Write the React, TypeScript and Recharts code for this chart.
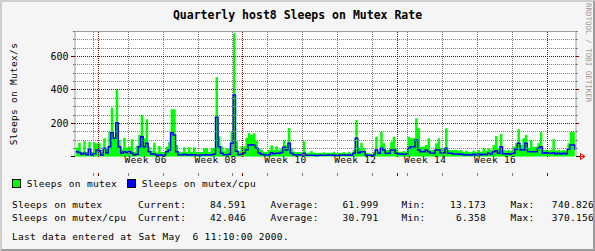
import React from 'react';
import { ComposedChart, Area, Line, XAxis, YAxis, CartesianGrid, ReferenceLine } from 'recharts';

// one sample every half day, day 0 = 1 Feb 2000
const FIRST_DAY = -4.5;
const STEP_DAYS = 0.5;

const mutex = [
  55, 84, 30, 94, 28, 90, 28, 86, 80, 80, 26, 110, 48, 150, 294, 120, 404, 100, 45, 114,
  55, 60, 104, 30, 64, 130, 250, 110, 224, 60, 35, 84, 25, 64, 26, 28, 60, 90, 284, 284,
  70, 30, 28, 56, 28, 56, 30, 56, 28, 30, 28,
  50, 52, 28, 50, 52, 476, 122, 62, 32, 52, 48, 148, 741, 92, 32, 62, 62, 112, 140, 130,
  140, 95, 52, 40, 28, 28, 40, 68, 40, 62, 42, 50, 98, 70, 172, 52, 30, 28, 28, 26,
  92, 24, 24, 34, 24, 22, 24, 22, 26, 22,
  24, 24, 30, 20, 22, 24, 28, 20, 30, 22, 40, 220, 50, 84, 50, 24, 20, 18, 30, 120,
  30, 150, 80, 40, 40, 90, 120, 50, 30, 30, 34, 30, 120, 110, 110, 230, 170, 60, 60, 70,
  110, 40, 40, 80, 110, 50, 50, 170, 40, 40,
  40, 40, 36, 40, 28, 36, 30, 26, 36, 30, 40, 30, 50, 34, 50, 40, 70, 124, 50, 136,
  40, 36, 40, 36, 60, 80, 164, 70, 110, 130, 50, 100, 60, 60, 80, 146, 40, 40, 36, 40,
  104, 36, 40, 36, 40, 36, 80, 148, 150, 85,
];

const mutexCpu = [
  30, 25, 14, 20, 12, 44, 10, 18, 40, 35, 8, 50, 22, 60, 144, 110, 204, 60, 20, 30,
  25, 30, 20, 10, 15, 60, 120, 60, 80, 30, 14, 16, 8, 10, 8, 10, 30, 40, 144, 130,
  30, 10, 10, 14, 10, 12, 10, 12, 10, 10, 10,
  10, 12, 10, 12, 14, 236, 60, 20, 12, 12, 14, 80, 370, 32, 12, 14, 22, 42, 70, 72,
  68, 50, 22, 14, 12, 10, 12, 24, 18, 20, 20, 25, 56, 40, 80, 20, 12, 10, 12, 10,
  20, 8, 8, 8, 8, 6, 8, 8, 8, 8,
  10, 10, 8, 7, 8, 10, 10, 8, 10, 8, 20, 110, 22, 30, 30, 10, 8, 7, 12, 40,
  20, 50, 40, 20, 20, 40, 40, 20, 16, 16, 14, 14, 50, 60, 60, 100, 40, 30, 30, 40,
  30, 20, 20, 40, 40, 24, 24, 50, 20, 20,
  16, 16, 14, 16, 12, 10, 12, 10, 14, 10, 16, 12, 14, 12, 20, 16, 30, 36, 20, 60,
  18, 16, 18, 14, 20, 44, 80, 40, 40, 80, 30, 30, 30, 30, 50, 60, 20, 24, 20, 20,
  24, 16, 20, 16, 20, 18, 44, 70, 70, 42,
];

const weekLabels = ['Week 06', 'Week 08', 'Week 10', 'Week 12', 'Week 14', 'Week 16'];
const weekLabelDays = [9.5, 23.5, 37.5, 51.5, 65.5, 79.5];
const weekLineDays = [-1, 6, 13, 20, 27, 34, 41, 48, 55, 62, 69, 76, 83];
const monthLineDays = [0, 29, 60, 90];

const yTicks = [0, 50, 100, 150, 200, 250, 300, 350, 400, 450, 500, 550, 600, 650, 700, 750];
const yMajor = [200, 400, 600];
const yMinor = [50, 100, 150, 250, 300, 350, 450, 500, 550, 650, 700, 750];
const Y_MAX = 752;
const X_DOMAIN: [number, number] = [-4.66, 95.74];

const statNames = ['Sleeps on mutex', 'Sleeps on mutex/cpu'];
const statCurrent = ['84.591', '42.046'];
const statAverage = ['61.999', '30.791'];
const statMin = ['13.173', '6.358'];
const statMax = ['740.826', '370.156'];

const chartData = mutex.map((m, i) => ({ day: FIRST_DAY + i * STEP_DAYS, mutex: m, cpu: mutexCpu[i] }));

const FONT = '"DejaVu Sans Mono", monospace';
const GRAY = '#808080';
const RED = '#800000';
const FRAME = '#a0a0a0';

function LeftTick(props: any) {
  const { x, y, payload } = props;
  const v = payload.value;
  if (v === 0) return <line x1={x - 4} x2={x} y1={y} y2={y} stroke="#000" shapeRendering="crispEdges" />;
  const major = v % 200 === 0;
  return (
    <g>
      <line x1={x - (major ? 4 : 2)} x2={x} y1={y} y2={y} stroke={major ? RED : GRAY} shapeRendering="crispEdges" />
      {major && (
        <text x={x - 6.5} y={y + 3.5} textAnchor="end" fontFamily={FONT} fontSize={10} fill="#000">{v}</text>
      )}
    </g>
  );
}

function RightTick(props: any) {
  const { x, y, payload } = props;
  const v = payload.value;
  if (v === 0) return null;
  const major = v % 200 === 0;
  return <line x1={x} x2={x + (major ? 3 : 2)} y1={y} y2={y} stroke={major ? RED : GRAY} shapeRendering="crispEdges" />;
}

function MarkTick(props: any) {
  const { x, y, payload } = props;
  const month = monthLineDays.includes(payload.value);
  return <line x1={x} x2={x} y1={y} y2={y + 3} stroke={month ? RED : GRAY} shapeRendering="crispEdges" />;
}

function WeekTick(props: any) {
  const { x, y, payload } = props;
  const i = weekLabelDays.indexOf(payload.value);
  return (
    <text x={x} y={y + 6.7} textAnchor="middle" fontFamily={FONT} fontSize={9.5} letterSpacing={0.3} fill="#000">
      {weekLabels[i]}
    </text>
  );
}

export default function App() {
  const txt = { fontFamily: FONT, fontSize: 9.5, letterSpacing: 0.3, fill: '#000' } as const;
  const rows = [207.7, 220.7];
  return (
    <div style={{ position: 'absolute', left: 0, top: 0, width: 595, height: 251, background: '#f5f5f5', overflow: 'hidden' }}>
      <div style={{ position: 'absolute', left: 0, top: 0 }}>
        <ComposedChart width={595} height={251} data={chartData} margin={{ top: 31.33, right: 9, bottom: 74.33, left: 45 }}>
          <CartesianGrid horizontal={false} vertical={false} fill="#ffffff" stroke="none" />
          <XAxis xAxisId="marks" dataKey="day" type="number" domain={X_DOMAIN} allowDataOverflow
            ticks={[...weekLineDays, ...monthLineDays]} interval={0} height={4} tickSize={0} tickMargin={0}
            axisLine={false} tickLine={false} tick={MarkTick} />
          <XAxis dataKey="day" type="number" domain={X_DOMAIN} allowDataOverflow
            ticks={weekLabelDays} interval={0} height={16} tickSize={0} tickMargin={0}
            axisLine={false} tickLine={false} tick={WeekTick} />
          <YAxis type="number" domain={[0, Y_MAX]} allowDataOverflow ticks={yTicks} interval={0} width={30}
            tickSize={0} tickMargin={0} tickLine={false} axisLine={{ stroke: FRAME }} tick={LeftTick} />
          <YAxis yAxisId="right" orientation="right" type="number" domain={[0, Y_MAX]} allowDataOverflow ticks={yTicks}
            interval={0} width={10} tickSize={0} tickMargin={0} tickLine={false} axisLine={{ stroke: FRAME }} tick={RightTick} />

          <Area type="stepAfter" dataKey="mutex" fill="#00ff00" fillOpacity={1} stroke="none" isAnimationActive={false} />
          <Line type="stepAfter" dataKey="cpu" stroke="#0000ff" strokeWidth={1.5} dot={false} activeDot={false} isAnimationActive={false} />

          {yMinor.map(v => (
            <ReferenceLine key={'h' + v} y={v} stroke={GRAY} strokeDasharray="1 1" shapeRendering="crispEdges" />
          ))}
          {weekLineDays.map(d => (
            <ReferenceLine key={'w' + d} x={d} stroke={GRAY} strokeDasharray="1 1" shapeRendering="crispEdges" />
          ))}
          {yMajor.map(v => (
            <ReferenceLine key={'H' + v} y={v} stroke={RED} strokeDasharray="1 1" shapeRendering="crispEdges" />
          ))}
          {monthLineDays.map(d => (
            <ReferenceLine key={'m' + d} x={d} stroke={RED} strokeDasharray="1 1" shapeRendering="crispEdges" />
          ))}
          <ReferenceLine y={Y_MAX} stroke={FRAME} shapeRendering="crispEdges" />
        </ComposedChart>
      </div>

      <svg width={595} height={251} style={{ position: 'absolute', left: 0, top: 0, pointerEvents: 'none' }}>
        <text x={297.5} y={18.5} textAnchor="middle" fontFamily={FONT} fontSize={11.5} fontWeight="bold" fill="#000">
          Quarterly host8 Sleeps on Mutex Rate
        </text>
        <text transform="translate(16.5,94) rotate(-90)" textAnchor="middle" {...txt}>Sleeps on Mutex/s</text>
        <text transform="translate(585.5,3) rotate(90)" fontFamily={FONT} fontSize={7.5} fill="#9a9a9a">RRDTOOL / TOBI OETIKER</text>

        {/* x axis arrow */}
        <line x1={576} x2={580} y1={156.5} y2={156.5} stroke="#000" shapeRendering="crispEdges" />
        <line x1={580} x2={585} y1={156.5} y2={156.5} stroke="#ff0000" shapeRendering="crispEdges" />
        <polygon points="580.5,153.5 585,156.5 580.5,159.5" fill="none" stroke="#ff0000" />

        {/* legend */}
        <rect x={12.5} y={179.5} width={8} height={8} fill="#00ff00" stroke="#000" />
        <text x={26.7} y={187} {...txt}>Sleeps on mutex</text>
        <rect x={127.5} y={179.5} width={8} height={8} fill="#0000ff" stroke="#000" />
        <text x={141.7} y={187} {...txt}>Sleeps on mutex/cpu</text>

        {statNames.map((name, i) => (
          <g key={name}>
            <text x={12} y={rows[i]} {...txt}>{name}</text>
            <text x={138} y={rows[i]} {...txt}>Current:</text>
            <text x={246} y={rows[i]} textAnchor="end" {...txt}>{statCurrent[i]}</text>
            <text x={270.5} y={rows[i]} {...txt}>Average:</text>
            <text x={378.5} y={rows[i]} textAnchor="end" {...txt}>{statAverage[i]}</text>
            <text x={401.5} y={rows[i]} {...txt}>Min:</text>
            <text x={486} y={rows[i]} textAnchor="end" {...txt}>{statMin[i]}</text>
            <text x={510.5} y={rows[i]} {...txt}>Max:</text>
            <text x={594} y={rows[i]} textAnchor="end" {...txt}>{statMax[i]}</text>
          </g>
        ))}
        <text x={12} y={240} {...txt} style={{ whiteSpace: 'pre' }}>Last data entered at Sat May  6 11:10:00 2000.</text>
      </svg>

      <div style={{
        position: 'absolute', left: 0, top: 0, width: 595, height: 251, boxSizing: 'border-box', pointerEvents: 'none',
        borderStyle: 'solid', borderWidth: 2, borderColor: '#cfcfcf #9e9e9e #9e9e9e #cfcfcf',
      }} />
    </div>
  );
}
